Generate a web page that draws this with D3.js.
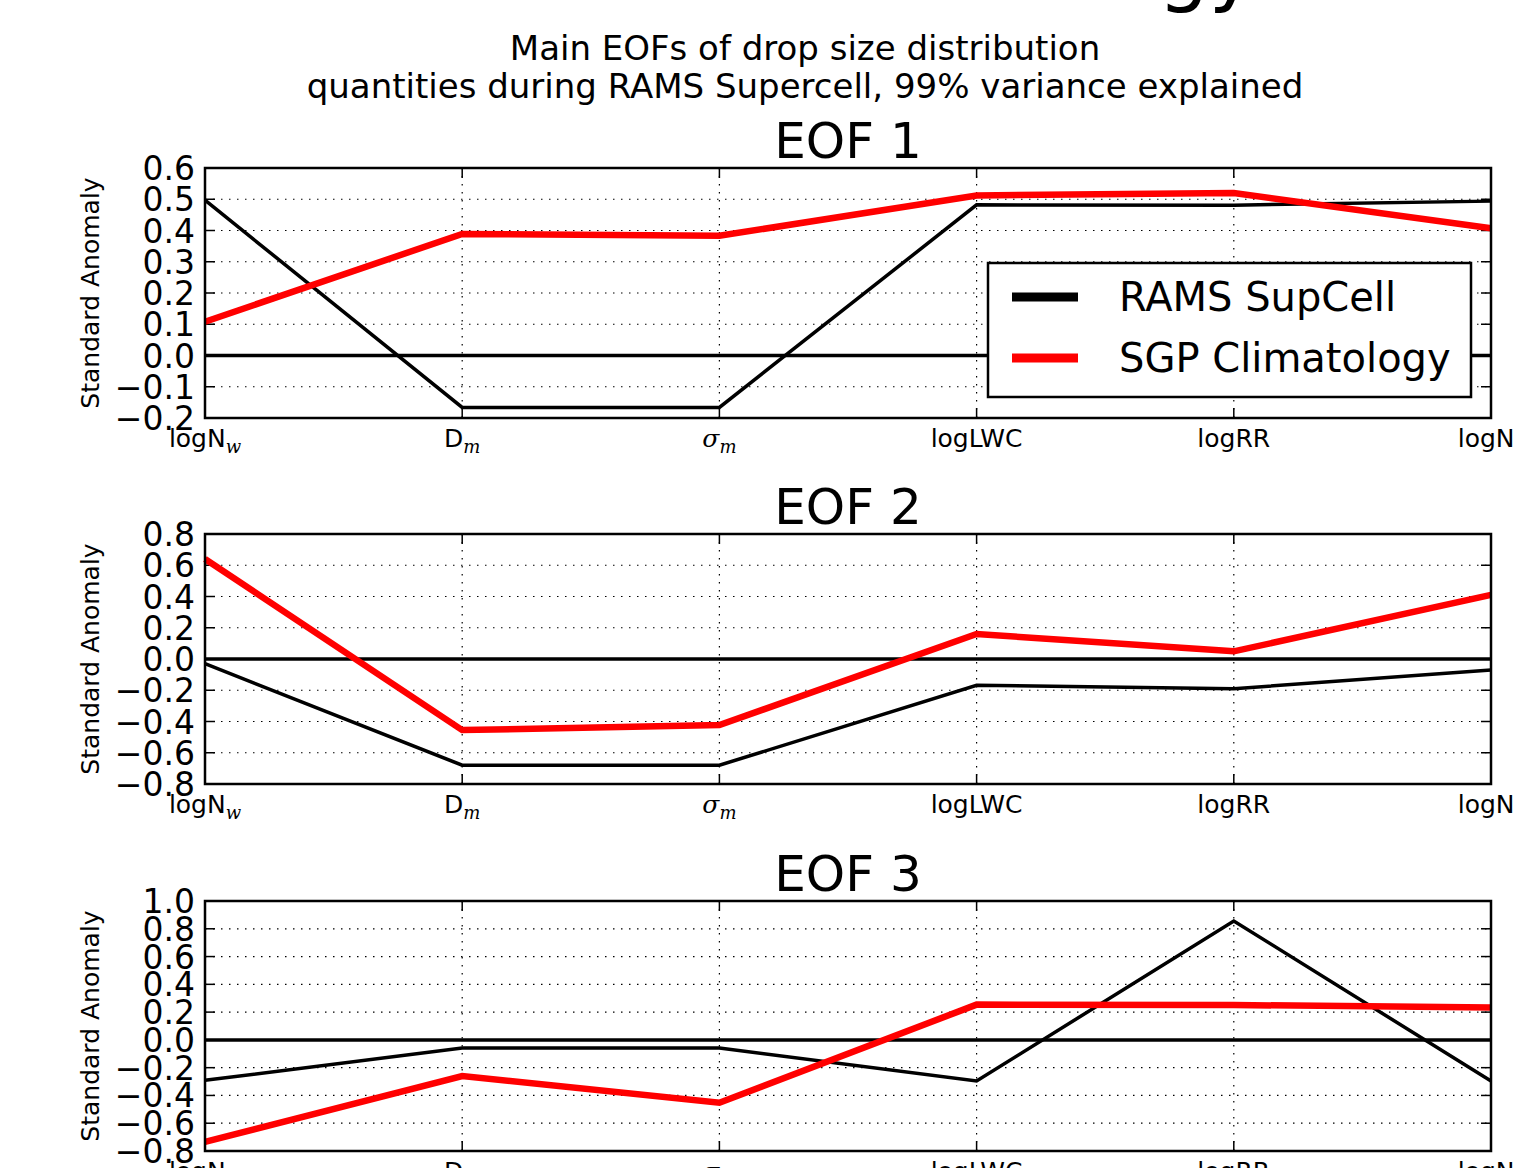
<!DOCTYPE html>
<html>
<head>
<meta charset="utf-8">
<script src="https://cdnjs.cloudflare.com/ajax/libs/d3/7.8.5/d3.min.js"></script>
<style>
    body { margin: 0; background: #fff; overflow: hidden; }
    svg text { font-family: "DejaVu Sans", sans-serif; fill: #000; }
</style>
</head>
<body>
<div id="chart"></div>
<script>
// variables along the x axis
let variables = ["logNw", "Dm", "sigma_m", "logLWC", "logRR", "logNt"];
let seriesNames = ["RAMS SupCell", "SGP Climatology"];
let panelTitles = ["EOF 1", "EOF 2", "EOF 3"];

// loadings
let eof1Rams = [0.497, -0.166, -0.166, 0.482, 0.481, 0.494];
let eof1Sgp  = [0.108, 0.389, 0.383, 0.512, 0.520, 0.407];
let eof2Rams = [-0.030, -0.680, -0.680, -0.168, -0.190, -0.070];
let eof2Sgp  = [0.640, -0.455, -0.423, 0.160, 0.049, 0.410];
let eof3Rams = [-0.291, -0.058, -0.058, -0.296, 0.856, -0.296];
let eof3Sgp  = [-0.735, -0.260, -0.453, 0.254, 0.251, 0.234];

// y ticks of each panel
let ticks1 = [-0.2, -0.1, 0.0, 0.1, 0.2, 0.3, 0.4, 0.5, 0.6];
let ticks2 = [-0.8, -0.6, -0.4, -0.2, 0.0, 0.2, 0.4, 0.6, 0.8];
let ticks3 = [-0.8, -0.6, -0.4, -0.2, 0.0, 0.2, 0.4, 0.6, 0.8, 1.0];

const width = 1513, height = 1168;
const left = 205, right = 1491;
const panelTop = [168, 534, 901];
const panelH = 250;

const svg = d3.select("#chart").append("svg")
    .attr("width", width)
    .attr("height", height);

// clipped piece of a bigger heading above this figure
svg.append("text")
    .attr("x", 1158)
    .attr("y", -4)
    .style("font-size", "80px")
    .text("gy");

// figure title
const title = svg.append("text")
    .attr("text-anchor", "middle")
    .style("font-size", "34px");
title.append("tspan").attr("x", 805).attr("y", 60).text("Main EOFs of drop size distribution");
title.append("tspan").attr("x", 805).attr("y", 98).text("quantities during RAMS Supercell, 99% variance explained");

const x = d3.scalePoint().domain(variables).range([left, right]);

function drawLabel(sel, v) {
    // tick label with math style subscripts
    const t = sel.append("text")
        .attr("text-anchor", "middle")
        .style("font-size", "25px");
    if (v === "logNw") {
        t.append("tspan").text("logN");
        t.append("tspan").attr("dy", 6).style("font-family", "DejaVu Serif").style("font-style", "italic").style("font-size", "18px").text("w");
    } else if (v === "Dm") {
        t.append("tspan").text("D");
        t.append("tspan").attr("dy", 6).style("font-family", "DejaVu Serif").style("font-style", "italic").style("font-size", "18px").text("m");
    } else if (v === "sigma_m") {
        t.append("tspan").style("font-family", "DejaVu Serif").style("font-style", "italic").text("σ");
        t.append("tspan").attr("dy", 6).style("font-family", "DejaVu Serif").style("font-style", "italic").style("font-size", "18px").text("m");
    } else {
        t.text(v);
    }
    return t;
}

function drawPanel(i, rams, sgp, ticks) {
    const top = panelTop[i];
    const bottom = top + panelH;
    const y = d3.scaleLinear()
        .domain([ticks[0], ticks[ticks.length - 1]])
        .range([bottom, top]);
    const g = svg.append("g");

    // grid
    g.selectAll(".hgrid").data(ticks.slice(1, -1)).enter().append("line")
        .attr("x1", left).attr("x2", right)
        .attr("y1", d => y(d)).attr("y2", d => y(d))
        .style("stroke", "#000").style("stroke-width", 1.2)
        .style("stroke-dasharray", "1.5,6.5");
    g.selectAll(".vgrid").data(variables.slice(1, -1)).enter().append("line")
        .attr("x1", d => x(d)).attr("x2", d => x(d))
        .attr("y1", top).attr("y2", bottom)
        .style("stroke", "#000").style("stroke-width", 1.2)
        .style("stroke-dasharray", "1.5,6.5");

    // inward ticks on all four sides
    ticks.forEach(t => {
        g.append("line").attr("x1", left).attr("x2", left + 10).attr("y1", y(t)).attr("y2", y(t))
            .style("stroke", "#000").style("stroke-width", 1.5);
        g.append("line").attr("x1", right - 10).attr("x2", right).attr("y1", y(t)).attr("y2", y(t))
            .style("stroke", "#000").style("stroke-width", 1.5);
    });
    variables.forEach(v => {
        g.append("line").attr("x1", x(v)).attr("x2", x(v)).attr("y1", bottom).attr("y2", bottom - 10)
            .style("stroke", "#000").style("stroke-width", 1.5);
        g.append("line").attr("x1", x(v)).attr("x2", x(v)).attr("y1", top).attr("y2", top + 10)
            .style("stroke", "#000").style("stroke-width", 1.5);
    });

    // zero line
    g.append("line")
        .attr("x1", left).attr("x2", right)
        .attr("y1", y(0)).attr("y2", y(0))
        .style("stroke", "#000").style("stroke-width", 3.5);

    const line = d3.line()
        .x((d, k) => x(variables[k]))
        .y(d => y(d));

    g.append("path").datum(rams)
        .attr("d", line)
        .attr("fill", "none")
        .style("stroke", "#000").style("stroke-width", 3.5);
    g.append("path").datum(sgp)
        .attr("d", line)
        .attr("fill", "none")
        .style("stroke", "#ff0000").style("stroke-width", 6.5);

    // frame
    g.append("rect")
        .attr("x", left).attr("y", top)
        .attr("width", right - left).attr("height", panelH)
        .attr("fill", "none")
        .style("stroke", "#000").style("stroke-width", 2.5);

    // y tick labels
    g.selectAll(".ylab").data(ticks).enter().append("text")
        .attr("x", 195)
        .attr("y", d => y(d) + 12)
        .attr("text-anchor", "end")
        .style("font-size", "33px")
        .text(d => d3.format(".1f")(d).replace("-", "\u2212"));

    // x tick labels
    variables.forEach(v => {
        drawLabel(g, v).attr("x", x(v)).attr("y", bottom + 29);
    });

    g.append("text")
        .attr("transform", `translate(99,${(top + bottom) / 2}) rotate(-90)`)
        .attr("text-anchor", "middle")
        .style("font-size", "25px")
        .text("Standard Anomaly");

    g.append("text")
        .attr("x", (left + right) / 2)
        .attr("y", top - 10)
        .attr("text-anchor", "middle")
        .style("font-size", "50px")
        .text(panelTitles[i]);
}

drawPanel(0, eof1Rams, eof1Sgp, ticks1);
drawPanel(1, eof2Rams, eof2Sgp, ticks2);
drawPanel(2, eof3Rams, eof3Sgp, ticks3);

// legend in the first panel
const legend = svg.append("g");
legend.append("rect")
    .attr("x", 988).attr("y", 263)
    .attr("width", 483).attr("height", 134)
    .attr("fill", "#fff")
    .style("stroke", "#000").style("stroke-width", 2.5);
const legendColors = ["#000", "#ff0000"];
seriesNames.forEach((name, k) => {
    const ly = 297 + k * 61;
    legend.append("line")
        .attr("x1", 1012).attr("x2", 1078)
        .attr("y1", ly).attr("y2", ly)
        .style("stroke", legendColors[k]).style("stroke-width", 9);
    legend.append("text")
        .attr("x", 1119).attr("y", ly + 14)
        .style("font-size", "40px")
        .text(name);
});
</script>
</body>
</html>
